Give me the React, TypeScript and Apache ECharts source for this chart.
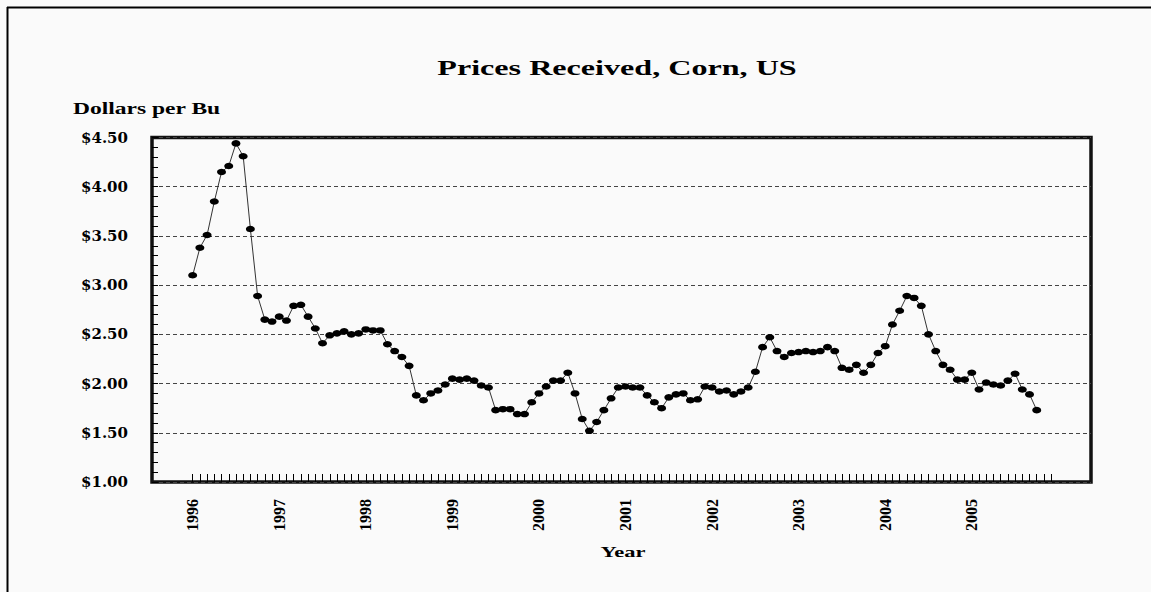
import React, { useEffect, useRef } from "react";
import * as echarts from "echarts";

// Monthly prices, Jan 1996 .. Oct 2005 (dollars per bushel)
const prices: number[] = [
  3.10, 3.38, 3.51, 3.85, 4.15, 4.21, 4.44, 4.31, 3.57, 2.89, 2.65, 2.63,
  2.68, 2.64, 2.79, 2.80, 2.68, 2.56, 2.41, 2.49, 2.51, 2.53, 2.50, 2.51,
  2.55, 2.54, 2.54, 2.40, 2.33, 2.27, 2.18, 1.88, 1.83, 1.90, 1.93, 1.99,
  2.05, 2.04, 2.05, 2.03, 1.98, 1.96, 1.73, 1.74, 1.74, 1.69, 1.69, 1.81,
  1.90, 1.97, 2.03, 2.03, 2.11, 1.90, 1.64, 1.52, 1.61, 1.73, 1.85, 1.96,
  1.97, 1.96, 1.96, 1.88, 1.81, 1.75, 1.86, 1.89, 1.90, 1.83, 1.84, 1.97,
  1.96, 1.92, 1.93, 1.89, 1.92, 1.96, 2.12, 2.37, 2.47, 2.33, 2.27, 2.31,
  2.32, 2.33, 2.32, 2.33, 2.37, 2.33, 2.16, 2.14, 2.19, 2.11, 2.19, 2.31,
  2.38, 2.60, 2.74, 2.89, 2.87, 2.79, 2.50, 2.33, 2.19, 2.14, 2.04, 2.04,
  2.11, 1.94, 2.01, 1.99, 1.98, 2.03, 2.10, 1.94, 1.89, 1.73,
];
const startYear = 1996;
const years: number[] = [1996, 1997, 1998, 1999, 2000, 2001, 2002, 2003, 2004, 2005];
const monthTickCount = 120; // Jan 1996 .. Dec 2005

const serif = '"Liberation Serif", "Times New Roman", serif';

export default function App() {
  const ref = useRef<HTMLDivElement>(null);
  useEffect(() => {
    if (!ref.current) return;
    const chart = echarts.init(ref.current, undefined, { renderer: "svg" });
    const data = prices.map((v, i) => [i, v]);
    const tickVals: number[] = [];
    for (let i = 0; i < monthTickCount; i++) tickVals.push(i);
    const labelVals = years.map((y) => (y - startYear) * 12);
    chart.setOption({
      animation: false,
      backgroundColor: "#fafafa",
      grid: {
        left: 152,
        right: 60,
        top: 137.5,
        bottom: 110,
        show: true,
        borderColor: "#111",
        borderWidth: 3.5,
        backgroundColor: "#fafafa",
      },
      xAxis: {
        type: "value",
        min: -5.64,
        max: 124.52,
        axisLine: { show: false, onZero: false },
        splitLine: { show: false },
        axisTick: {
          show: true,
          inside: true,
          length: 8,
          customValues: tickVals,
          lineStyle: { color: "#000", width: 1 },
        },
        axisLabel: {
          show: true,
          customValues: labelVals,
          rotate: 90,
          margin: 17,
          fontFamily: serif,
          fontWeight: "bold",
          fontSize: 16,
          color: "#000",
          formatter: (v: number) => String(startYear + Math.round(v / 12)),
        },
      },
      yAxis: {
        type: "value",
        min: 1,
        max: 4.5,
        interval: 0.5,
        axisLine: { show: false, onZero: false },
        axisTick: {
          show: true,
          inside: true,
          length: 6,
          lineStyle: { color: "#000", width: 1 },
        },
        minorTick: {
          show: true,
          splitNumber: 5,
          length: 6,
          lineStyle: { color: "#000", width: 1 },
        },
        splitLine: {
          show: true,
          lineStyle: { color: "#444", width: 1, type: [4, 3] },
        },
        axisLabel: {
          margin: 24,
          fontFamily: '"DejaVu Serif", serif',
          fontWeight: "bold",
          fontSize: 15,
          color: "#000",
          formatter: (v: number) => "$" + v.toFixed(2),
        },
      },
      series: [
        {
          type: "line",
          data,
          symbol: "circle",
          symbolSize: [9, 6.5],
          itemStyle: { color: "#000" },
          lineStyle: { color: "#333", width: 1 },
        },
      ],
      graphic: [
        {
          type: "line",
          shape: { x1: 7, y1: 7.5, x2: 1151, y2: 7.5 },
          style: { stroke: "#000", lineWidth: 2 },
        },
        {
          type: "line",
          shape: { x1: 7.5, y1: 7, x2: 7.5, y2: 592 },
          style: { stroke: "#000", lineWidth: 2 },
        },
        {
          type: "text",
          x: 617,
          y: 68,
          scaleX: 1.53,
          style: {
            text: "Prices Received, Corn, US",
            fontFamily: serif,
            fontWeight: "bold",
            fontSize: 21,
            fill: "#000",
            align: "center",
            verticalAlign: "middle",
          },
        },
        {
          type: "text",
          x: 73,
          y: 108,
          scaleX: 1.47,
          style: {
            text: "Dollars per Bu",
            fontFamily: serif,
            fontWeight: "bold",
            fontSize: 16,
            fill: "#000",
            align: "left",
            verticalAlign: "middle",
          },
        },
        {
          type: "text",
          x: 623,
          y: 552,
          scaleX: 1.5,
          style: {
            text: "Year",
            fontFamily: serif,
            fontWeight: "bold",
            fontSize: 15,
            fill: "#000",
            align: "center",
            verticalAlign: "middle",
          },
        },
      ],
    });
    return () => chart.dispose();
  }, []);
  return (
    <div
      ref={ref}
      style={{ position: "absolute", left: 0, top: 0, width: 1151, height: 592 }}
    />
  );
}
